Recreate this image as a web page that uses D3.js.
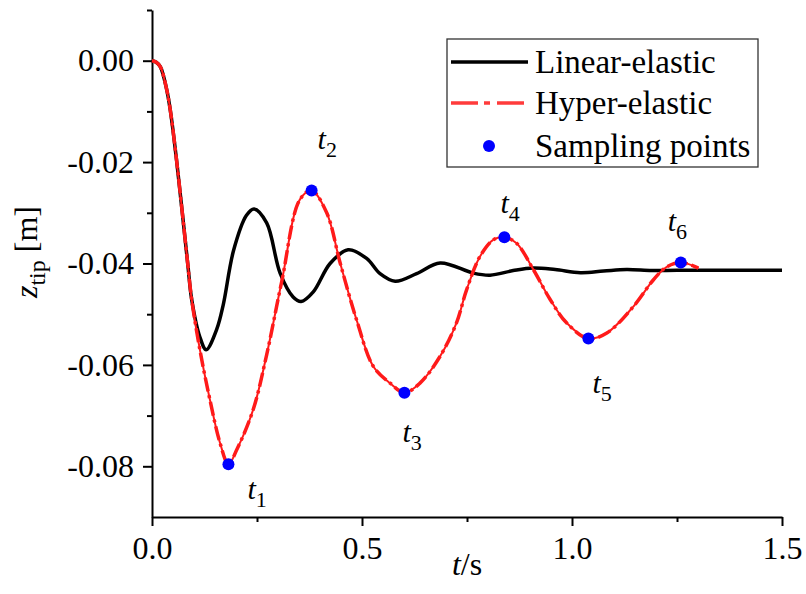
<!DOCTYPE html>
<html lang="en">
<head>
<meta charset="UTF-8">
<title>Tip displacement</title>
<script src="https://d3js.org/d3.v7.min.js"></script>
<style>
	body { margin: 0; background: #fff; }
	svg { display: block; font-family: "Liberation Serif", "Times New Roman", serif; }
</style>
</head>
<body>
<div id="chart"></div>
<script>
// values
const linearT = [0, 0.01, 0.02, 0.035, 0.044, 0.059, 0.085, 0.0945, 0.114, 0.129, 0.154, 0.170, 0.194, 0.225, 0.243, 0.273, 0.305, 0.336, 0.355, 0.384, 0.424, 0.467, 0.511, 0.543, 0.579, 0.630, 0.686, 0.765, 0.805, 0.860, 0.907, 0.960, 1.020, 1.075, 1.130, 1.190, 1.250, 1.350, 1.500];
const linearZ = [0, -0.0003, -0.0012, -0.0057, -0.010, -0.020, -0.040, -0.0471, -0.0545, -0.0570, -0.0530, -0.0480, -0.0375, -0.0305, -0.02925, -0.0320, -0.0419, -0.0466, -0.0475, -0.0456, -0.0400, -0.0373, -0.0390, -0.0420, -0.0435, -0.0420, -0.0399, -0.0419, -0.0423, -0.0414, -0.0409, -0.0412, -0.0418, -0.0415, -0.0412, -0.0414, -0.04135, -0.04135, -0.04135];

const hyperT = [0, 0.01, 0.02, 0.035, 0.044, 0.059, 0.085, 0.0945, 0.114, 0.138, 0.162, 0.182, 0.202, 0.241, 0.273, 0.309, 0.352, 0.380, 0.416, 0.448, 0.487, 0.527, 0.567, 0.601, 0.638, 0.686, 0.725, 0.749, 0.781, 0.813, 0.839, 0.868, 0.908, 0.948, 0.987, 1.039, 1.083, 1.146, 1.194, 1.225, 1.259, 1.301];
const hyperZ = [0, -0.0003, -0.0012, -0.0057, -0.010, -0.020, -0.040, -0.0471, -0.057, -0.0669, -0.0754, -0.0796, -0.0767, -0.0688, -0.0580, -0.0435, -0.0274, -0.0256, -0.0300, -0.0399, -0.0511, -0.0603, -0.0636, -0.0655, -0.0636, -0.0583, -0.0517, -0.0452, -0.0386, -0.0353, -0.0348, -0.0360, -0.0412, -0.0471, -0.0517, -0.0548, -0.0537, -0.0485, -0.0432, -0.0407, -0.0398, -0.0409];

const sampleT = [0.182, 0.380, 0.601, 0.839, 1.039, 1.259];
const sampleZ = [-0.0796, -0.0256, -0.0655, -0.0348, -0.0548, -0.0398];
const sampleNames = ["1", "2", "3", "4", "5", "6"];

const xTicks = [0, 0.5, 1.0, 1.5];
const xMinor = [0.25, 0.75, 1.25];
const yTicks = [0, -0.02, -0.04, -0.06, -0.08];
const yMinor = [0.01, -0.01, -0.03, -0.05, -0.07];

const legendNames = ["Linear-elastic", "Hyper-elastic", "Sampling points"];

// layout
const width = 806, height = 594;
const plotL = 152, plotR = 782, plotT = 10, plotB = 517;
// where each t label sits relative to its dot
const labelOffsets = [[19, 35], [6, -41], [-2, 49], [-4, -24], [4, 54], [-13, -31]];

const svg = d3.select("#chart").append("svg")
	.attr("width", width)
	.attr("height", height);

const x = d3.scaleLinear().domain([0, 1.5]).range([plotL, plotR]);
const y = d3.scaleLinear().domain([-0.09, 0.01]).range([plotB, plotT]);

// axes
svg.append("g")
	.attr("transform", `translate(0,${plotB})`)
	.call(d3.axisBottom(x).tickValues(xTicks).tickFormat(d => d.toFixed(1))
		.tickSize(9).tickSizeOuter(0).tickPadding(10));
svg.append("g")
	.attr("transform", `translate(0,${plotB})`)
	.call(d3.axisBottom(x).tickValues(xMinor).tickFormat("").tickSize(5).tickSizeOuter(0))
	.call(g => g.select(".domain").remove());

svg.append("g")
	.attr("transform", `translate(${plotL},0)`)
	.call(d3.axisLeft(y).tickValues(yTicks).tickFormat(d => d.toFixed(2))
		.tickSize(9).tickSizeOuter(0).tickPadding(9));
svg.append("g")
	.attr("transform", `translate(${plotL},0)`)
	.call(d3.axisLeft(y).tickValues(yMinor).tickFormat("").tickSize(5).tickSizeOuter(0))
	.call(g => g.select(".domain").remove());

svg.selectAll(".domain, .tick line")
	.attr("stroke", "#000")
	.attr("stroke-width", 2);
svg.selectAll(".tick text")
	.attr("fill", "#000")
	.style("font-size", "32px")
	.style("font-family", "Liberation Serif, serif");

// axis titles
const xt = svg.append("text")
	.attr("x", (plotL + plotR) / 2)
	.attr("y", 575)
	.attr("text-anchor", "middle")
	.style("font-size", "32px");
xt.append("tspan").attr("font-style", "italic").text("t");
xt.append("tspan").text("/s");

const yt = svg.append("text")
	.attr("transform", `translate(37,252) rotate(-90)`)
	.attr("text-anchor", "middle")
	.style("font-size", "32px");
yt.append("tspan").attr("font-style", "italic").text("z");
yt.append("tspan").attr("dy", 8).style("font-size", "24px").text("tip");
yt.append("tspan").attr("dy", -8).text(" [m]");

// curves
const line = d3.line()
	.x(d => x(d[0]))
	.y(d => y(d[1]))
	.curve(d3.curveCatmullRom.alpha(0.5));

const linearData = linearT.map((t, i) => [t, linearZ[i]]);
const hyperData = hyperT.map((t, i) => [t, hyperZ[i]]);

svg.append("path")
	.datum(linearData)
	.attr("d", line)
	.attr("fill", "none")
	.attr("stroke", "#000")
	.attr("stroke-width", 3.5)
	.attr("stroke-linejoin", "round");

svg.append("path")
	.datum(hyperData)
	.attr("d", line)
	.attr("fill", "none")
	.attr("stroke", "#ff1a1a")
	.attr("stroke-width", 2);
svg.append("path")
	.datum(hyperData)
	.attr("d", line)
	.attr("fill", "none")
	.attr("stroke", "#ff1a1a")
	.attr("stroke-width", 3.5)
	.attr("stroke-dasharray", "14,4,3,4");

// sampling points
svg.selectAll("circle.sample")
	.data(sampleT)
	.enter().append("circle")
	.attr("class", "sample")
	.attr("cx", d => x(d))
	.attr("cy", (d, i) => y(sampleZ[i]))
	.attr("r", 6)
	.attr("fill", "#0000ff");

sampleNames.forEach((n, i) => {
	const lab = svg.append("text")
		.attr("x", x(sampleT[i]) + labelOffsets[i][0])
		.attr("y", y(sampleZ[i]) + labelOffsets[i][1])
		.style("font-size", "30px");
	lab.append("tspan").attr("font-style", "italic").text("t");
	lab.append("tspan").attr("dy", 8).style("font-size", "22px").text(n);
});

// legend
const lg = svg.append("g");
lg.append("rect")
	.attr("x", 447).attr("y", 39)
	.attr("width", 311).attr("height", 128)
	.attr("fill", "#fff")
	.attr("stroke", "#333")
	.attr("stroke-width", 1.3);
const rowY = [62, 103, 146];
lg.append("line")
	.attr("x1", 451).attr("x2", 528).attr("y1", rowY[0]).attr("y2", rowY[0])
	.attr("stroke", "#000").attr("stroke-width", 3.5);
lg.append("line")
	.attr("x1", 451).attr("x2", 528).attr("y1", rowY[1]).attr("y2", rowY[1])
	.attr("stroke", "#ff3b3b").attr("stroke-width", 3.5)
	.attr("stroke-dasharray", "27,6,6,7");
lg.append("circle")
	.attr("cx", 489).attr("cy", rowY[2]).attr("r", 6)
	.attr("fill", "#0000ff");
lg.selectAll("text.leg")
	.data(legendNames)
	.enter().append("text")
	.attr("class", "leg")
	.attr("x", 535)
	.attr("y", (d, i) => rowY[i] + 11)
	.style("font-size", "33px")
	.text(d => d);
</script>
</body>
</html>
